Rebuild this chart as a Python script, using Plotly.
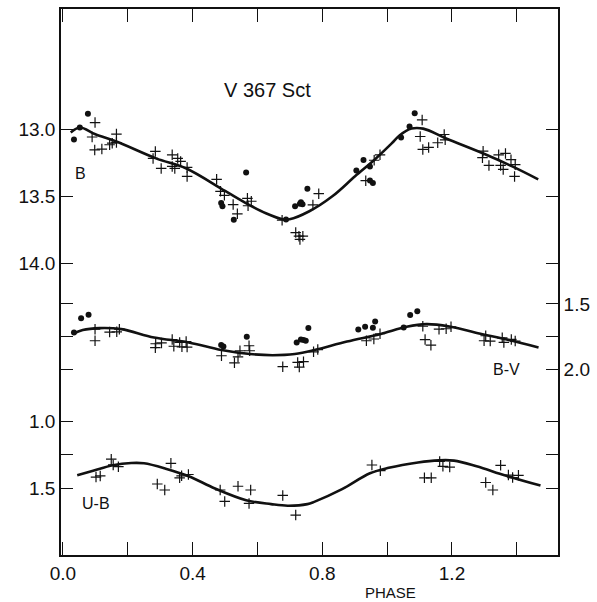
import plotly.graph_objects as go

# ---- B magnitude ----
b_cross_phase = [0.099, 0.090, 0.098, 0.120, 0.144, 0.152, 0.165, 0.165, 0.285, 0.278,
                 0.303, 0.337, 0.354, 0.363, 0.337, 0.345, 0.383, 0.383, 0.474, 0.486,
                 0.498, 0.525, 0.538, 0.569, 0.571, 0.581, 0.676, 0.718, 0.728, 0.740,
                 0.731, 0.789, 0.771, 0.934, 0.960, 0.978, 1.108, 1.102, 1.110, 1.128,
                 1.156, 1.176, 1.179, 1.296, 1.294, 1.314, 1.344, 1.365, 1.382, 1.350,
                 1.358, 1.395, 1.393]
b_cross_mag = [12.948, 13.056, 13.153, 13.146, 13.114, 13.102, 13.034, 13.097, 13.164, 13.216,
               13.291, 13.189, 13.216, 13.239, 13.276, 13.291, 13.284, 13.351, 13.373, 13.463,
               13.493, 13.562, 13.631, 13.515, 13.571, 13.537, 13.679, 13.772, 13.799, 13.799,
               13.823, 13.480, 13.565, 13.383, 13.230, 13.189, 12.928, 13.052, 13.149, 13.134,
               13.099, 13.037, 13.077, 13.162, 13.211, 13.269, 13.189, 13.179, 13.226, 13.269,
               13.299, 13.263, 13.351]
b_dot_phase = [0.077, 0.034, 0.052, 0.488, 0.492, 0.527, 0.565, 0.688, 0.716, 0.734,
               0.739, 0.731, 0.754, 0.905, 0.927, 0.947, 0.947, 0.956, 1.043, 1.069, 1.085]
b_dot_mag = [12.881, 13.075, 12.985, 13.550, 13.575, 13.675, 13.321, 13.674, 13.575, 13.545,
             13.560, 13.556, 13.443, 13.306, 13.228, 13.276, 13.381, 13.401, 13.060, 12.978, 12.877]
b_curve_phase = [0.024, 0.052, 0.100, 0.165, 0.287, 0.379, 0.500, 0.571, 0.626, 0.678,
                 0.699, 0.760, 0.831, 0.901, 0.962, 1.014, 1.038, 1.075, 1.111, 1.182,
                 1.304, 1.386, 1.466]
b_curve_mag = [13.022, 12.985, 13.035, 13.090, 13.216, 13.290, 13.460, 13.560, 13.627, 13.672,
               13.672, 13.612, 13.500, 13.350, 13.224, 13.104, 13.045, 12.993, 12.993, 13.067,
               13.187, 13.276, 13.373]

# ---- B-V colour ----
bv_cross_phase = [0.099, 0.099, 0.144, 0.166, 0.174, 0.286, 0.285, 0.304, 0.337, 0.342,
                  0.360, 0.367, 0.380, 0.383, 0.489, 0.529, 0.540, 0.546, 0.574, 0.576,
                  0.678, 0.724, 0.729, 0.742, 0.773, 0.786, 0.936, 0.959, 0.978, 1.110,
                  1.117, 1.135, 1.160, 1.182, 1.197, 1.304, 1.299, 1.318, 1.355, 1.360,
                  1.383, 1.395]
bv_cross_val = [1.692, 1.780, 1.714, 1.712, 1.692, 1.803, 1.833, 1.797, 1.771, 1.822,
                1.793, 1.826, 1.786, 1.828, 1.894, 1.948, 1.902, 1.856, 1.818, 1.856,
                1.977, 1.945, 1.980, 1.939, 1.864, 1.847, 1.780, 1.767, 1.727, 1.670,
                1.771, 1.814, 1.692, 1.689, 1.674, 1.742, 1.780, 1.783, 1.758, 1.793,
                1.770, 1.783]
bv_dot_phase = [0.034, 0.056, 0.079, 0.488, 0.495, 0.567, 0.721, 0.734, 0.742, 0.749,
                0.757, 0.911, 0.932, 0.956, 0.963, 1.051, 1.071, 1.093]
bv_dot_val = [1.717, 1.610, 1.583, 1.812, 1.824, 1.750, 1.793, 1.771, 1.774, 1.780,
              1.684, 1.695, 1.674, 1.682, 1.634, 1.680, 1.585, 1.555]
bv_curve_phase = [0.030, 0.061, 0.113, 0.180, 0.281, 0.388, 0.489, 0.577, 0.647, 0.715,
                  0.776, 0.876, 0.978, 1.060, 1.121, 1.192, 1.294, 1.375, 1.467]
bv_curve_val = [1.730, 1.699, 1.684, 1.692, 1.755, 1.793, 1.851, 1.881, 1.890, 1.881,
                1.851, 1.786, 1.730, 1.674, 1.654, 1.672, 1.730, 1.775, 1.831]

# ---- U-B colour ----
ub_cross_phase = [0.102, 0.115, 0.149, 0.155, 0.171, 0.333, 0.291, 0.314, 0.360, 0.366,
                  0.387, 0.485, 0.499, 0.540, 0.579, 0.574, 0.678, 0.718, 0.953, 0.979,
                  1.115, 1.136, 1.162, 1.172, 1.193, 1.304, 1.326, 1.350, 1.374, 1.387, 1.405]
ub_cross_val = [1.416, 1.408, 1.282, 1.325, 1.338, 1.313, 1.468, 1.513, 1.422, 1.407,
                1.397, 1.513, 1.599, 1.485, 1.513, 1.614, 1.554, 1.701, 1.326, 1.368,
                1.422, 1.422, 1.299, 1.336, 1.341, 1.457, 1.513, 1.328, 1.401, 1.420, 1.403]
ub_curve_phase = [0.044, 0.093, 0.154, 0.211, 0.250, 0.317, 0.388, 0.469, 0.565, 0.642,
                  0.693, 0.754, 0.775, 0.861, 0.947, 1.005, 1.095, 1.159, 1.206, 1.276,
                  1.365, 1.473]
ub_curve_val = [1.403, 1.369, 1.328, 1.311, 1.313, 1.353, 1.410, 1.502, 1.590, 1.619,
                1.631, 1.619, 1.602, 1.507, 1.388, 1.347, 1.307, 1.291, 1.293, 1.336,
                1.405, 1.480]

x_tickvals = [0.0, 0.2, 0.4, 0.6, 0.8, 1.0, 1.2, 1.4]
x_ticktext = ["0.0", "", "0.4", "", "0.8", "", "1.2", ""]

FONT = "Liberation Sans, Arial, Helvetica, sans-serif"
INK = "#111111"

cross = dict(symbol="cross-thin", size=7.5, line=dict(color=INK, width=1.2), color=INK)
dot = dict(symbol="circle", size=6, color=INK, line=dict(width=0))
curve = dict(color=INK, width=2.6, shape="spline", smoothing=1.0)

fig = go.Figure()

# B panel
fig.add_trace(go.Scatter(x=b_curve_phase, y=b_curve_mag, mode="lines", line=curve, yaxis="y"))
fig.add_trace(go.Scatter(x=b_cross_phase, y=b_cross_mag, mode="markers", marker=cross, yaxis="y"))
fig.add_trace(go.Scatter(x=b_dot_phase, y=b_dot_mag, mode="markers", marker=dot, yaxis="y"))

# B-V panel
fig.add_trace(go.Scatter(x=bv_curve_phase, y=bv_curve_val, mode="lines", line=curve, yaxis="y2"))
fig.add_trace(go.Scatter(x=bv_cross_phase, y=bv_cross_val, mode="markers", marker=cross, yaxis="y2"))
fig.add_trace(go.Scatter(x=bv_dot_phase, y=bv_dot_val, mode="markers", marker=dot, yaxis="y2"))

# U-B panel
fig.add_trace(go.Scatter(x=ub_curve_phase, y=ub_curve_val, mode="lines", line=curve, yaxis="y3"))
fig.add_trace(go.Scatter(x=ub_cross_phase, y=ub_cross_val, mode="markers", marker=cross, yaxis="y3"))

axis_common = dict(
    showgrid=False, zeroline=False, showline=True, linecolor=INK, linewidth=1.6,
    ticks="inside", ticklen=12, tickwidth=1.4, tickcolor=INK, mirror="ticks",
    tickfont=dict(family=FONT, size=19, color=INK), fixedrange=True,
)

fig.update_layout(
    width=597, height=602,
    margin=dict(l=61, r=34, t=7, b=47, pad=0),
    paper_bgcolor="white", plot_bgcolor="white",
    showlegend=False,
    xaxis=dict(axis_common, range=[-0.006, 1.527], tickvals=x_tickvals, ticktext=x_ticktext,
               ticklen=13, tickfont=dict(family=FONT, size=19, color=INK)),
    yaxis=dict(axis_common, range=[16.187, 12.097], side="left",
               tickvals=[13.0, 13.5, 14.0], ticktext=["13.0", "13.5", "14.0"]),
    yaxis2=dict(axis_common, range=[3.409, -0.742], side="right", overlaying="y",
                tickvals=[1.5, 1.75, 2.0], ticktext=["1.5", "", "2.0"]),
    yaxis3=dict(axis_common, range=[2.0, -2.090], side="left", overlaying="y",
                tickvals=[1.0, 1.25, 1.5], ticktext=["1.0", "", "1.5"]),
)

label_font = dict(family=FONT, size=16, color=INK)
fig.add_annotation(text="V 367 Sct", xref="paper", yref="paper", x=0.416, y=0.876,
                   showarrow=False, font=dict(family=FONT, size=20, color=INK))
fig.add_annotation(text="B", xref="x", yref="y", x=0.055, y=13.328, showarrow=False, font=label_font)
fig.add_annotation(text="B-V", xref="x", yref="y2", x=1.368, y=2.0, showarrow=False, font=label_font)
fig.add_annotation(text="U-B", xref="x", yref="y3", x=0.101, y=1.612, showarrow=False, font=label_font)
fig.add_annotation(text="PHASE", xref="paper", yref="paper", x=0.662, y=-0.0693,
                   yanchor="middle", showarrow=False, font=dict(family=FONT, size=15, color=INK))

fig.write_html("out.html")
